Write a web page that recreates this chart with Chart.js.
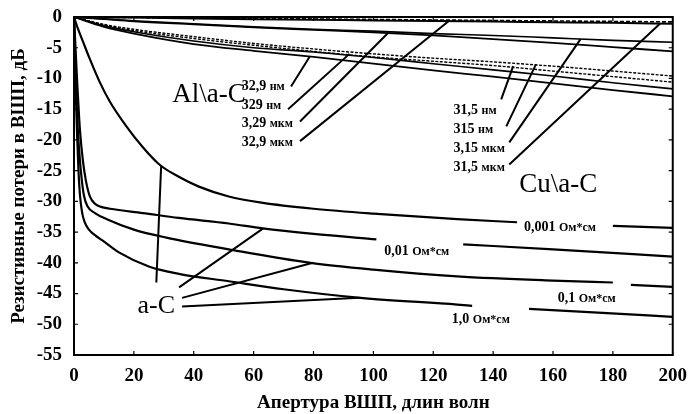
<!DOCTYPE html>
<html>
<head>
<meta charset="utf-8">
<script src="https://cdn.jsdelivr.net/npm/chart.js@4/dist/chart.umd.min.js"></script>
<style>
  body { margin: 0; background: #fff; }
</style>
</head>
<body>
<canvas id="grafik" width="689" height="414"></canvas>
<script>
// Ось X: апертура ВШП (длин волн), ось Y: потери (дБ)
const xTicks = [0, 20, 40, 60, 80, 100, 120, 140, 160, 180, 200];
const yTicks = [0, -5, -10, -15, -20, -25, -30, -35, -40, -45, -50, -55];

// a-C, четыре удельных сопротивления (null = разрыв под подпись)
const ac001X = [0, 1, 3, 5, 8.6, 12, 17.5, 23, 28.5, 35, 41.7, 51.7, 62.6, 80, 100, 128, 148, 150, 180, 200];
const ac001Y = [0, -1.5, -4, -6.5, -10.6, -13.8, -17.8, -21.2, -24, -26, -27.6, -29.2, -30.2, -31.2, -32, -32.9, -33.4, null, -34, -34.3];

const ac01X = [0, 0.5, 1, 1.5, 2, 3, 4, 5.3, 7, 9, 12, 23, 35, 51.7, 63, 80, 101, 110, 130, 160, 200];
const ac01Y = [0, -5, -10, -14.5, -18.5, -23.5, -26.7, -29.2, -30.4, -30.9, -31.2, -31.9, -32.7, -33.6, -34.4, -35.3, -36.2, null, -37, -37.8, -39];

const ac1X = [0, 0.4, 0.8, 1.3, 2, 2.6, 3.3, 4.5, 7, 11, 20, 30.8, 51.7, 79, 100, 128, 160, 180, 182, 186, 200];
const ac1Y = [0, -7, -13, -18.5, -23.5, -26.5, -29, -30.8, -31.9, -32.9, -34.6, -35.9, -37.8, -40, -41.1, -42.2, -42.9, -43.2, null, -43.6, -43.9];

const ac10X = [0, 0.3, 0.7, 1.1, 1.5, 2, 2.7, 3.5, 5, 7, 9.6, 15, 25, 35, 51.7, 70, 95.7, 128, 133, 140, 152, 175, 200];
const ac10Y = [0, -7, -14, -20, -25, -29, -31.8, -33.3, -34.6, -35.5, -36.4, -38.3, -40.6, -41.8, -43, -44.3, -45.7, -46.8, -47, null, -47.5, -48.1, -48.8];

// Al\a-C и Cu\a-C
const metalX = [0, 10, 20, 40, 60, 80, 100, 120, 140, 160, 180, 200];
const al329umY = [0, -0.05, -0.1, -0.25, -0.35, -0.45, -0.55, -0.65, -0.75, -0.85, -0.95, -1.1];
const al329nmUmY = [0, -0.35, -0.7, -1.2, -1.7, -2.1, -2.5, -3.0, -3.6, -4.2, -4.9, -5.6];
const al329nmY = [0, -1.4, -2.4, -3.9, -5.0, -5.7, -6.6, -7.6, -8.6, -9.6, -10.7, -11.7];
const al329nm10Y = [0, -1.6, -2.7, -4.4, -5.5, -6.5, -7.6, -8.7, -9.7, -10.8, -11.9, -12.9];
const cu315umY = [0, -0.04, -0.08, -0.16, -0.24, -0.32, -0.4, -0.48, -0.56, -0.64, -0.72, -0.8];
const cu315nmUmY = [0, -0.3, -0.6, -1.1, -1.6, -2.0, -2.3, -2.7, -3.0, -3.4, -3.8, -4.1];
const cu315nmY = [0, -1.2, -2.0, -3.2, -4.3, -5.2, -6.0, -6.7, -7.3, -8.0, -8.8, -9.6];
const cu315nm10Y = [0, -1.3, -2.2, -3.5, -4.6, -5.6, -6.5, -7.2, -7.9, -8.8, -9.7, -10.6];

function toPoints(xs, ys) {
    return xs.map((x, i) => ({ x: x, y: ys[i] }));
}

function seria(xs, ys, width, dash) {
    return {
        data: toPoints(xs, ys),
        borderColor: '#000',
        borderWidth: width,
        borderDash: dash || [],
        pointRadius: 0,
        cubicInterpolationMode: 'monotone',
        spanGaps: false,
        fill: false
    };
}

// Подписи и выноски (в координатах данных)
const yazilar = [
    { t: 'Al\\a-C', x: 32.8, y: -13.9, f: '27px "Liberation Serif"' },
    { t: 'Cu\\a-C', x: 148.7, y: -28.5, f: '27px "Liberation Serif"' },
    { t: 'a-C', x: 21.2, y: -48.1, f: '26px "Liberation Serif"' },
    { t: '32,9 нм', x: 56, y: -11.9 },
    { t: '329 нм', x: 56, y: -15.0 },
    { t: '3,29 мкм', x: 56, y: -17.9 },
    { t: '32,9 мкм', x: 56, y: -21.0 },
    { t: '31,5 нм', x: 126.8, y: -15.8 },
    { t: '315 нм', x: 126.8, y: -18.8 },
    { t: '3,15 мкм', x: 126.8, y: -21.9 },
    { t: '31,5 мкм', x: 126.8, y: -25.0 },
    { t: '0,001 Ом*см', x: 150.3, y: -34.9 },
    { t: '0,01 Ом*см', x: 103.6, y: -38.8 },
    { t: '0,1 Ом*см', x: 161.6, y: -46.3 },
    { t: '1,0 Ом*см', x: 126.2, y: -49.8 }
];

const cizgiler = [
    [72.5, -11.3, 78.8, -6.4], [71.5, -15, 92, -6.0], [75.5, -17, 105.3, -2.4], [75.5, -20.2, 125.2, -0.65],
    [142.7, -13.4, 146.7, -8.0], [144.4, -17.8, 154.3, -7.7], [145.4, -20.4, 169.2, -3.6], [145.4, -24, 195.7, -1.1],
    [27.5, -43.2, 29.1, -24.3], [35.1, -44, 63.2, -34.4], [36.1, -45.7, 79.8, -40], [36.1, -47.1, 95.4, -45.7]
];

const notlar = {
    id: 'notlar',
    afterDatasetsDraw(chart) {
        const ctx = chart.ctx;
        const sx = chart.scales.x, sy = chart.scales.y;
        const a = chart.chartArea;
        ctx.save();
        // рамка и внутренние засечки
        ctx.strokeStyle = '#000';
        ctx.lineWidth = 2;
        ctx.strokeRect(a.left, a.top, a.right - a.left, a.bottom - a.top);
        ctx.lineWidth = 1.2;
        xTicks.forEach(v => {
            const px = sx.getPixelForValue(v);
            ctx.beginPath();
            ctx.moveTo(px, a.bottom); ctx.lineTo(px, a.bottom - 4);
            ctx.moveTo(px, a.top); ctx.lineTo(px, a.top + 4);
            ctx.stroke();
        });
        yTicks.forEach(v => {
            const py = sy.getPixelForValue(v);
            ctx.beginPath();
            ctx.moveTo(a.left, py); ctx.lineTo(a.left + 4, py);
            ctx.moveTo(a.right, py); ctx.lineTo(a.right - 4, py);
            ctx.stroke();
        });
        // выноски
        ctx.lineWidth = 2;
        cizgiler.forEach(c => {
            ctx.beginPath();
            ctx.moveTo(sx.getPixelForValue(c[0]), sy.getPixelForValue(c[1]));
            ctx.lineTo(sx.getPixelForValue(c[2]), sy.getPixelForValue(c[3]));
            ctx.stroke();
        });
        // подписи: число крупнее, единицы мельче
        ctx.fillStyle = '#000';
        ctx.textBaseline = 'alphabetic';
        ctx.textAlign = 'left';
        yazilar.forEach(y => {
            let px = sx.getPixelForValue(y.x);
            const py = sy.getPixelForValue(y.y);
            if (y.f) {
                ctx.font = y.f;
                ctx.fillText(y.t, px, py);
                return;
            }
            const parca = y.t.split(' ');
            ctx.font = 'bold 14px "Liberation Serif"';
            ctx.fillText(parca[0], px, py);
            px += ctx.measureText(parca[0] + ' ').width;
            ctx.font = 'bold 12px "Liberation Serif"';
            ctx.fillText(parca[1], px, py);
        });
        ctx.restore();
    }
};

const fontEksen = { family: '"Liberation Serif"', size: 19, weight: 'bold' };

new Chart(document.getElementById('grafik'), {
    type: 'line',
    data: {
        datasets: [
            seria(ac001X, ac001Y, 2.2),
            seria(ac01X, ac01Y, 2.2),
            seria(ac1X, ac1Y, 2.2),
            seria(ac10X, ac10Y, 2.2),
            seria(metalX, al329umY, 2),
            seria(metalX, al329nmUmY, 1.8),
            seria(metalX, al329nmY, 1.6),
            seria(metalX, al329nm10Y, 1.8),
            seria(metalX, cu315umY, 1.6, [4, 2]),
            seria(metalX, cu315nmUmY, 1.6),
            seria(metalX, cu315nmY, 1.4, [3, 1.5]),
            seria(metalX, cu315nm10Y, 1.4, [3, 1.5])
        ]
    },
    options: {
        responsive: false,
        animation: false,
        layout: { padding: { top: 17, right: 11, left: 0, bottom: 0 } },
        plugins: {
            legend: { display: false },
            tooltip: { enabled: false }
        },
        scales: {
            x: {
                type: 'linear',
                min: 0,
                max: 200,
                afterBuildTicks: s => { s.ticks = xTicks.map(v => ({ value: v })); },
                afterFit: s => { s.height = 59; },
                ticks: { color: '#000', font: fontEksen, padding: 2, maxRotation: 0 },
                grid: { display: false },
                border: { display: false },
                title: {
                    display: true,
                    text: 'Апертура ВШП, длин волн',
                    color: '#000',
                    font: fontEksen,
                    padding: { top: 0, bottom: 0 }
                }
            },
            y: {
                type: 'linear',
                min: -55,
                max: 0,
                afterBuildTicks: s => { s.ticks = yTicks.map(v => ({ value: v })); },
                afterFit: s => { s.width = 74; },
                ticks: { color: '#000', font: fontEksen, padding: 4 },
                grid: { display: false },
                border: { display: false },
                title: {
                    display: true,
                    text: 'Резистивные потери в ВШП, дБ',
                    color: '#000',
                    font: fontEksen,
                    padding: { top: 8, bottom: 0 }
                }
            }
        }
    },
    plugins: [notlar]
});
</script>
</body>
</html>
